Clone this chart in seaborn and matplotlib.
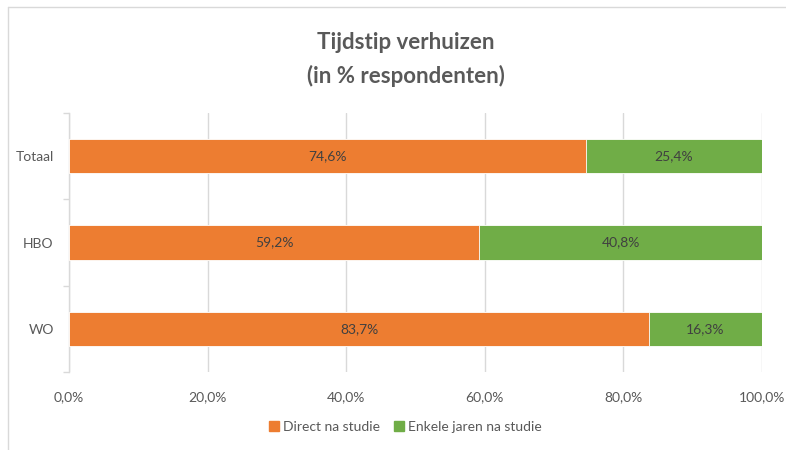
import pandas as pd
import matplotlib.pyplot as plt
import seaborn as sns
from matplotlib.lines import Line2D

# data
categories = ['Totaal', 'HBO', 'WO']
direct_na_studie = [74.6, 59.2, 83.7]
enkele_jaren = [25.4, 40.8, 16.3]
x_ticks = [0, 20, 40, 60, 80, 100]

ORANGE = '#ED7D31'
GREEN = '#70AD47'
GREY_TXT = '#595959'
GRID = '#D9D9D9'

df = pd.DataFrame({'cat': categories, 'direct': direct_na_studie, 'enkele': enkele_jaren})
df['totaal'] = df['direct'] + df['enkele']

sns.set_style('white')
plt.rcParams['font.family'] = ['Lato', 'DejaVu Sans']

fig = plt.figure(figsize=(7.86, 4.5), dpi=100)
ax = fig.add_axes([0.0878, 0.173, 0.8817, 0.576])

# stacked: green = total, orange drawn over it
sns.barplot(data=df, y='cat', x='totaal', color=GREEN, width=0.4, orient='h', saturation=1,
            edgecolor='white', linewidth=0.6, ax=ax, zorder=3)
sns.barplot(data=df, y='cat', x='direct', color=ORANGE, width=0.4, orient='h', saturation=1,
            edgecolor='white', linewidth=0.6, ax=ax, zorder=3)

green_bars = ax.containers[0]
orange_bars = ax.containers[1]
for bar, d, e in zip(green_bars, df['direct'], df['enkele']):
    ax.text(d + e / 2, bar.get_y() + bar.get_height() / 2, f"{e:.1f}%".replace('.', ','),
            ha='center', va='center', fontsize=10, color='#404040', zorder=4)
for bar, d in zip(orange_bars, df['direct']):
    ax.text(d / 2, bar.get_y() + bar.get_height() / 2, f"{d:.1f}%".replace('.', ','),
            ha='center', va='center', fontsize=10, color='#404040', zorder=4)

ax.set_xlim(0, 100)
ax.set_ylim(2.5, -0.5)
ax.set_xticks(x_ticks)
ax.set_xticklabels([f"{t:.1f}%".replace('.', ',') for t in x_ticks])
ax.set_xlabel('')
ax.set_ylabel('')
ax.grid(axis='x', color=GRID, linewidth=1, zorder=0)
ax.set_axisbelow(True)
for s in ['top', 'right', 'bottom']:
    ax.spines[s].set_visible(False)
ax.spines['left'].set_color(GRID)
ax.spines['left'].set_linewidth(1)

ax.tick_params(axis='x', length=0, pad=14, labelsize=10, labelcolor=GREY_TXT)
ax.tick_params(axis='y', length=0, pad=11, labelsize=10, labelcolor=GREY_TXT)
# small ticks on the category boundaries of the left axis
ax.set_yticks([-0.5, 0.5, 1.5, 2.5], minor=True)
ax.tick_params(axis='y', which='minor', length=4, color=GRID, width=1, left=True)

fig.text(0.516, 0.905, 'Tijdstip verhuizen', ha='center', va='center',
         fontsize=16, fontweight='bold', color=GREY_TXT)
fig.text(0.516, 0.832, '(in % respondenten)', ha='center', va='center',
         fontsize=16, fontweight='bold', color=GREY_TXT)

handles = [plt.Rectangle((0, 0), 1, 1, color=ORANGE), plt.Rectangle((0, 0), 1, 1, color=GREEN)]
fig.legend(handles, ['Direct na studie', 'Enkele jaren na studie'], loc='center',
           bbox_to_anchor=(0.516, 0.051), ncol=2, frameon=False, fontsize=10,
           labelcolor=GREY_TXT, handlelength=0.7, handleheight=0.7, handletextpad=0.3,
           columnspacing=1.0)

# chart area border (top and left)
fig.add_artist(Line2D([8 / 786, 1], [1 - 7 / 450, 1 - 7 / 450], color=GRID, linewidth=1))
fig.add_artist(Line2D([8 / 786, 8 / 786], [0, 1 - 7 / 450], color=GRID, linewidth=1))

fig.savefig('out.png', dpi=100)
